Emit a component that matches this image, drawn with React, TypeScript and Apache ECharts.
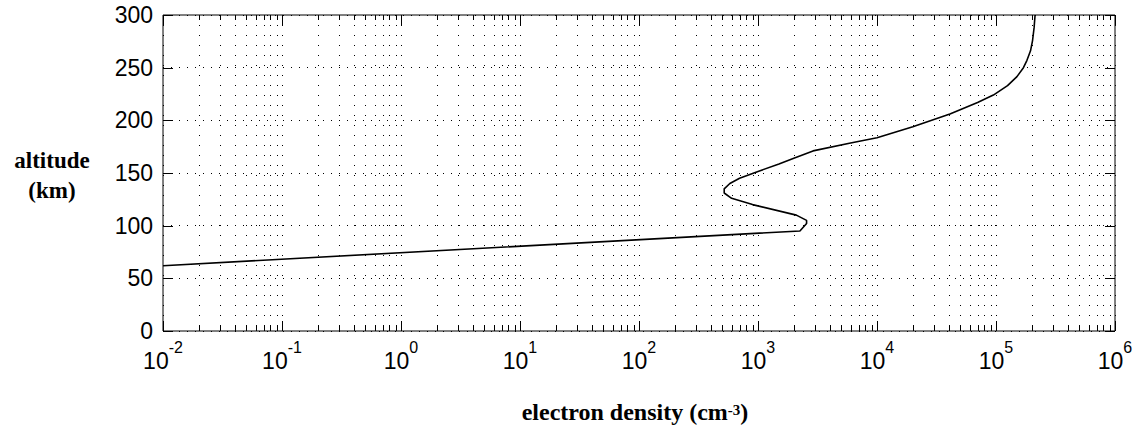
import React, { useEffect, useRef } from "react";
import * as echarts from "echarts";

// Electron density profile: [density in cm^-3, altitude in km]
const densityProfile: [number, number][] = [
  [0.01, 62],
  [2250, 95],
  [2560, 102],
  [2560, 105],
  [2100, 110],
  [900, 120],
  [600, 126],
  [520, 131],
  [520, 135],
  [580, 140],
  [700, 145],
  [1000, 151.5],
  [1500, 158.5],
  [2000, 164],
  [2900, 171],
  [6000, 178.5],
  [10000, 183.5],
  [20000, 194],
  [41000, 206],
  [70000, 217],
  [95000, 224],
  [125000, 233],
  [150000, 241.5],
  [170000, 250],
  [182000, 257],
  [195000, 266],
  [203000, 276],
  [209000, 288],
  [213000, 300],
];

// Axis ranges and ticks
const xDecades = [-2, -1, 0, 1, 2, 3, 4, 5, 6];
const yTicks = [0, 50, 100, 150, 200, 250, 300];
const minorMultipliers = [2, 3, 4, 5, 6, 7, 8, 9];

const xMin = Math.pow(10, xDecades[0]);
const xMax = Math.pow(10, xDecades[xDecades.length - 1]);
const yMin = yTicks[0];
const yMax = yTicks[yTicks.length - 1];

// minor log positions between each pair of decades
const minorValues: number[][] = [];
for (let i = 0; i < xDecades.length - 1; i++) {
  for (const m of minorMultipliers) {
    minorValues.push([m * Math.pow(10, xDecades[i]), yMin]);
  }
}
const majorXValues = xDecades.map((e) => [Math.pow(10, e), yMin]);
const majorYValues = yTicks.map((t) => [xMin, t]);

const SANS = "'Liberation Sans', Arial, Helvetica, sans-serif";
const SERIF = "'Liberation Serif', 'Times New Roman', Times, serif";

const MAJOR_TICK = 10;
const MINOR_TICK = 5;

export default function App() {
  const ref = useRef<HTMLDivElement>(null);

  useEffect(() => {
    if (!ref.current) return;
    const chart = echarts.init(ref.current, undefined, { renderer: "svg" });

    const tickStyle = { stroke: "#000", lineWidth: 1 };

    const option: echarts.EChartsOption = {
      animation: false,
      backgroundColor: "#fff",
      grid: {
        left: 163,
        top: 15,
        width: 952,
        height: 316,
        containLabel: false,
        show: true,
        borderColor: "#000",
        borderWidth: 1,
        backgroundColor: "transparent",
        z: 10,
      },
      xAxis: {
        type: "log",
        logBase: 10,
        min: xMin,
        max: xMax,
        interval: 1,
        position: "bottom",
        axisLine: { show: false },
        axisTick: { show: false },
        axisLabel: {
          margin: 5,
          formatter: (v: number) => {
            const e = Math.round(Math.log10(v));
            return `{b|10}{s|${e}}`;
          },
          rich: {
            b: { fontFamily: SANS, fontSize: 23, color: "#000", verticalAlign: "bottom", lineHeight: 36, padding: [13, 0, 0, 0] },
            s: { fontFamily: SANS, fontSize: 16, color: "#000", verticalAlign: "top", lineHeight: 36, padding: [3, 0, 10, 0] },
          },
        },
        splitLine: { show: true, lineStyle: { color: "#000", width: 1, type: [1, 9] } },
      },
      yAxis: {
        type: "value",
        min: yMin,
        max: yMax,
        interval: 50,
        position: "left",
        axisLine: { show: false },
        axisTick: { show: false },
        axisLabel: { margin: 10, fontFamily: SANS, fontSize: 23, color: "#000" },
        splitLine: { show: true, lineStyle: { color: "#000", width: 1, type: [1, 7] } },
      },
      graphic: [
        {
          type: "text",
          x: 52,
          y: 160,
          style: {
            text: "altitude",
            font: `bold 23px ${SERIF}`,
            fill: "#000",
            textAlign: "center",
            textVerticalAlign: "middle",
          },
        },
        {
          type: "text",
          x: 52,
          y: 190,
          style: {
            text: "(km)",
            font: `bold 23px ${SERIF}`,
            fill: "#000",
            textAlign: "center",
            textVerticalAlign: "middle",
          },
        },
        {
          type: "text",
          x: 635,
          y: 411,
          style: {
            text: "{a|electron density (cm}{s|-3}{a|)}",
            textAlign: "center",
            textVerticalAlign: "middle",
            rich: {
              a: { font: `bold 24px ${SERIF}`, fill: "#000", verticalAlign: "bottom", lineHeight: 26 },
              s: { font: `bold 15px ${SERIF}`, fill: "#000", verticalAlign: "top", lineHeight: 26, padding: [4, 0, 0, 0] },
            },
          } as any,
        },
      ],
      series: [
        {
          // minor log grid lines and minor ticks on bottom and top edges
          type: "custom",
          silent: true,
          clip: false,
          data: minorValues,
          renderItem: (_params: any, api: any) => {
            const v = api.value(0);
            const top = api.coord([v, yMax]);
            const bot = api.coord([v, yMin]);
            const x = Math.round(top[0]) + 0.5;
            return {
              type: "group",
              children: [
                {
                  type: "line",
                  shape: { x1: x, y1: top[1], x2: x, y2: bot[1] },
                  style: { stroke: "#000", lineWidth: 1, lineDash: [1, 9] },
                },
                {
                  type: "line",
                  shape: { x1: x, y1: top[1], x2: x, y2: top[1] + MINOR_TICK },
                  style: tickStyle,
                },
                {
                  type: "line",
                  shape: { x1: x, y1: bot[1], x2: x, y2: bot[1] - MINOR_TICK },
                  style: tickStyle,
                },
              ],
            };
          },
          z: 1,
        },
        {
          // major ticks on bottom and top edges
          type: "custom",
          silent: true,
          clip: false,
          data: majorXValues,
          renderItem: (_params: any, api: any) => {
            const v = api.value(0);
            const top = api.coord([v, yMax]);
            const bot = api.coord([v, yMin]);
            const x = Math.round(top[0]) + 0.5;
            return {
              type: "group",
              children: [
                { type: "line", shape: { x1: x, y1: top[1], x2: x, y2: top[1] + MAJOR_TICK }, style: tickStyle },
                { type: "line", shape: { x1: x, y1: bot[1], x2: x, y2: bot[1] - MAJOR_TICK }, style: tickStyle },
              ],
            };
          },
          z: 2,
        },
        {
          // major ticks on left and right edges
          type: "custom",
          silent: true,
          clip: false,
          data: majorYValues,
          renderItem: (_params: any, api: any) => {
            const t = api.value(1);
            const left = api.coord([xMin, t]);
            const right = api.coord([xMax, t]);
            const y = Math.round(left[1]) + 0.5;
            return {
              type: "group",
              children: [
                { type: "line", shape: { x1: left[0], y1: y, x2: left[0] + MAJOR_TICK, y2: y }, style: tickStyle },
                { type: "line", shape: { x1: right[0], y1: y, x2: right[0] - MAJOR_TICK, y2: y }, style: tickStyle },
              ],
            };
          },
          z: 2,
        },
        {
          type: "line",
          data: densityProfile,
          showSymbol: false,
          smooth: false,
          lineStyle: { color: "#000", width: 1.6 },
          z: 5,
        },
      ],
    };

    chart.setOption(option);
    return () => chart.dispose();
  }, []);

  return (
    <div
      ref={ref}
      style={{ position: "fixed", left: 0, top: 0, width: 1147, height: 426 }}
    />
  );
}
